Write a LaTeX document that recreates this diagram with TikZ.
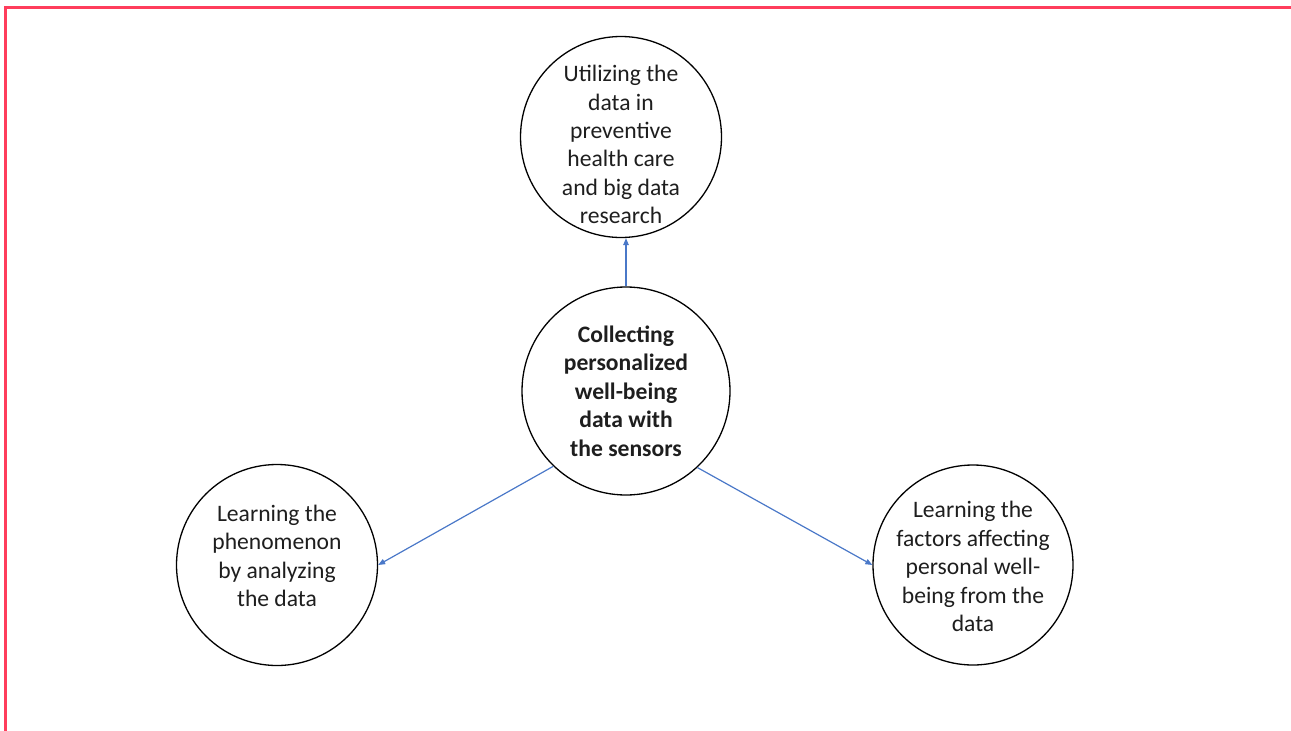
\documentclass[tikz,border=0pt]{standalone}
\usepackage{fontspec}
\setmainfont{Carlito}
\usetikzlibrary{arrows.meta}
\definecolor{frame}{HTML}{FF3D5C}
\definecolor{link}{HTML}{4A78C8}
\definecolor{ink}{HTML}{1E1E1E}
\begin{document}
\begin{tikzpicture}[x=1pt,y=1pt,
  bubble/.style={circle,draw=black,line width=1.3pt,inner sep=0pt},
  caption/.style={align=center,text=ink,font=\fontsize{23.6}{28.4}\selectfont},
  flow/.style={draw=link,line width=1.2pt,-{Triangle[length=7pt,width=5.5pt]}}]
  \useasboundingbox (0,0) rectangle (1291,-731);
  % page frame, open to the right and bottom
  \begin{scope}
    \clip (0,0) rectangle (1291,-731);
    \draw[frame,line width=2.4pt] (5.5,-745) -- (5.5,-7.5) -- (1300,-7.5);
  \end{scope}
  % circles
  \node[bubble,minimum size=201pt] (top) at (621,-137) {};
  \node[bubble,minimum size=208pt] (hub) at (626,-391) {};
  \node[bubble,minimum size=201pt] (left) at (277,-565) {};
  \node[bubble,minimum size=200pt] (right) at (973,-565) {};
  % texts
  \node[caption] (topText) at (621,-144.5) {Utilizing the\\data in\\preventive\\health care\\and big data\\research};
  \node[caption,font=\fontsize{23.6}{28.4}\selectfont\bfseries] (hubText) at (626,-391) {Collecting\\personalized\\well-being\\data with\\the sensors};
  \node[caption] (leftText) at (277,-556) {Learning the\\phenomenon\\by analyzing\\the data};
  \node[caption] (rightText) at (973,-566.5) {Learning the\\factors affecting\\personal well-\\being from the\\data};
  % connectors
  \draw[flow] (hub.north) -- (hub.north |- top.south);
  \draw[flow] (hub.226.5) -- (left.east);
  \draw[flow] (hub.313.5) -- (right.west);
\end{tikzpicture}
\end{document}
